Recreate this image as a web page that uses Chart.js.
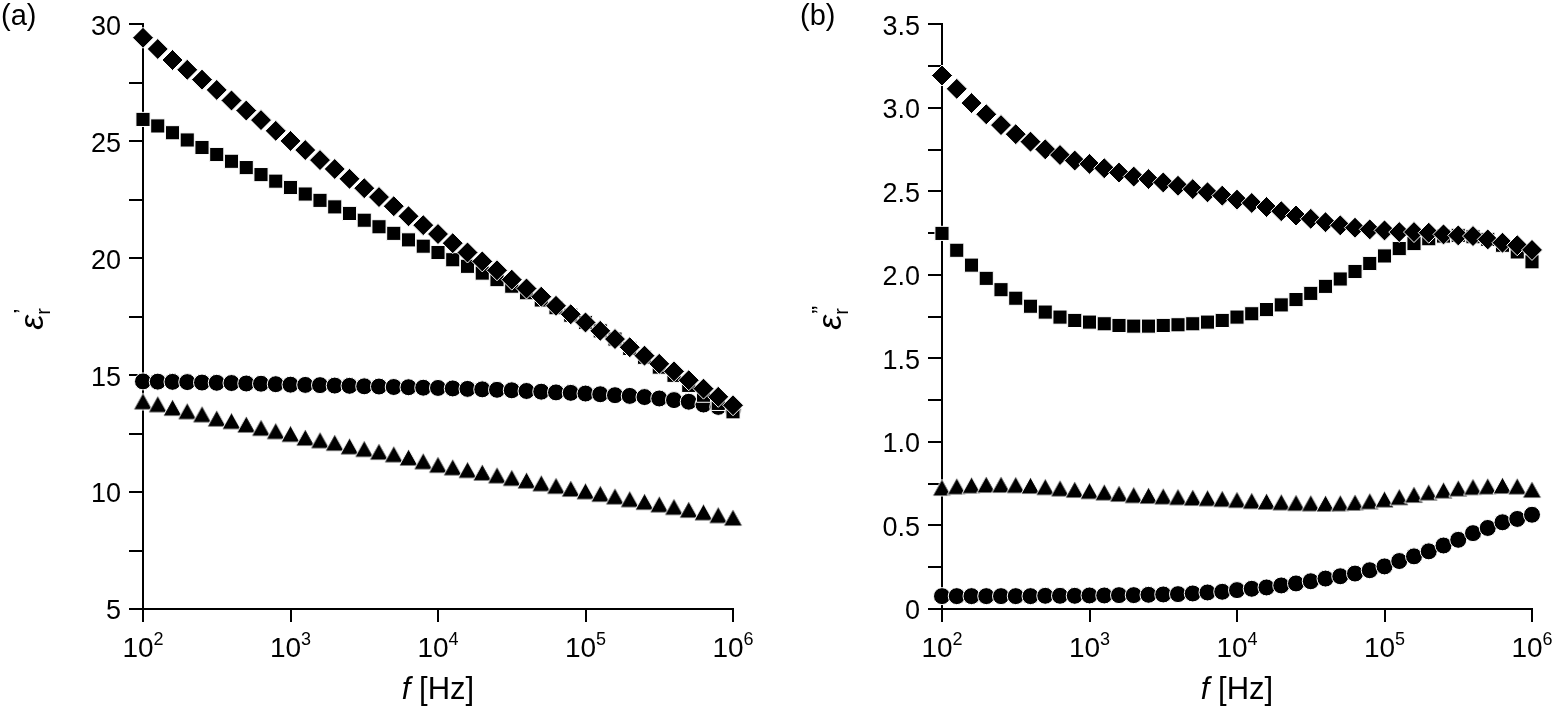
<!DOCTYPE html>
<html>
<head>
<meta charset="utf-8">
<script src="https://cdn.jsdelivr.net/npm/chart.js@4.4.1/dist/chart.umd.min.js"></script>
<style>
  html, body { margin: 0; padding: 0; background: #fff; }
  #wrap { position: relative; width: 1556px; height: 711px; }
  canvas { position: absolute; top: 0; }
  #chartA { left: 0; }
  #chartB { left: 778px; }
</style>
</head>
<body>
<div id="wrap">
  <canvas id="chartA" width="778" height="711"></canvas>
  <canvas id="chartB" width="778" height="711"></canvas>
</div>
<script>
// frequencies [Hz], 10 points per decade
let freq = [
  100, 125.9, 158.5, 199.5, 251.2, 316.2, 398.1, 501.2, 631.0, 794.3,
  1000, 1259, 1585, 1995, 2512, 3162, 3981, 5012, 6310, 7943,
  10000, 12589, 15849, 19953, 25119, 31623, 39811, 50119, 63096, 79433,
  100000, 125893, 158489, 199526, 251189, 316228, 398107, 501187, 630957, 794328,
  1000000
];

// decade ticks on the x axis
let xTickVals = [100, 1000, 10000, 100000, 1000000];
let xTickExp = ['2', '3', '4', '5', '6'];

// (a) real part
let realDiamond = [
  29.42, 28.94, 28.47, 28.05, 27.63, 27.19, 26.74, 26.31, 25.90, 25.44,
  25.01, 24.62, 24.19, 23.81, 23.39, 22.99, 22.61, 22.22, 21.79, 21.41,
  21.03, 20.64, 20.24, 19.86, 19.48, 19.08, 18.70, 18.35, 17.96, 17.60,
  17.25, 16.89, 16.54, 16.19, 15.83, 15.48, 15.16, 14.78, 14.42, 14.07,
  13.71
];
let realSquare = [
  25.93, 25.65, 25.36, 25.05, 24.73, 24.43, 24.14, 23.87, 23.57, 23.29,
  23.02, 22.74, 22.47, 22.19, 21.91, 21.62, 21.34, 21.06, 20.78, 20.51,
  20.24, 19.93, 19.65, 19.36, 19.08, 18.80, 18.52, 18.21, 17.88, 17.56,
  17.25, 16.89, 16.54, 16.14, 15.76, 15.34, 14.99, 14.56, 14.14, 13.79,
  13.43
];
let realCircle = [
  14.73, 14.72, 14.71, 14.70, 14.68, 14.67, 14.66, 14.64, 14.63, 14.61,
  14.59, 14.58, 14.57, 14.55, 14.54, 14.52, 14.51, 14.49, 14.48, 14.46,
  14.45, 14.43, 14.41, 14.39, 14.37, 14.35, 14.32, 14.29, 14.26, 14.24,
  14.21, 14.18, 14.14, 14.11, 14.06, 14.00, 13.93, 13.86, 13.74, 13.64,
  13.54
];
let realTriangle = [
  13.88, 13.76, 13.61, 13.46, 13.33, 13.15, 13.04, 12.89, 12.75, 12.61,
  12.49, 12.33, 12.22, 12.11, 11.96, 11.85, 11.73, 11.62, 11.48, 11.32,
  11.17, 11.06, 10.95, 10.84, 10.72, 10.61, 10.50, 10.38, 10.27, 10.15,
  10.04, 9.93, 9.82, 9.70, 9.59, 9.48, 9.37, 9.25, 9.14, 9.02,
  8.91
];

// (b) imaginary part
let imagDiamond = [
  3.193, 3.113, 3.028, 2.961, 2.896, 2.842, 2.797, 2.751, 2.717, 2.684,
  2.664, 2.638, 2.612, 2.588, 2.573, 2.553, 2.533, 2.513, 2.494, 2.474,
  2.450, 2.430, 2.406, 2.381, 2.355, 2.335, 2.315, 2.296, 2.282, 2.272,
  2.266, 2.256, 2.256, 2.252, 2.242, 2.236, 2.232, 2.212, 2.192, 2.177,
  2.149
];
let imagSquare = [
  2.248, 2.147, 2.058, 1.979, 1.911, 1.860, 1.812, 1.777, 1.747, 1.727,
  1.717, 1.707, 1.697, 1.693, 1.693, 1.697, 1.701, 1.707, 1.717, 1.727,
  1.747, 1.767, 1.792, 1.820, 1.852, 1.889, 1.931, 1.975, 2.020, 2.068,
  2.113, 2.157, 2.187, 2.216, 2.232, 2.236, 2.228, 2.212, 2.177, 2.137,
  2.078
];
let imagCircle = [
  0.077, 0.077, 0.077, 0.077, 0.077, 0.077, 0.077, 0.079, 0.079, 0.079,
  0.081, 0.081, 0.083, 0.083, 0.085, 0.087, 0.089, 0.093, 0.099, 0.103,
  0.113, 0.121, 0.129, 0.141, 0.153, 0.166, 0.182, 0.196, 0.212, 0.232,
  0.255, 0.287, 0.315, 0.345, 0.380, 0.414, 0.454, 0.485, 0.519, 0.539,
  0.564
];
let imagTriangle = [
  0.727, 0.735, 0.741, 0.745, 0.745, 0.743, 0.739, 0.731, 0.723, 0.715,
  0.707, 0.699, 0.691, 0.683, 0.679, 0.675, 0.671, 0.667, 0.664, 0.660,
  0.654, 0.648, 0.644, 0.640, 0.636, 0.634, 0.632, 0.634, 0.638, 0.646,
  0.657, 0.671, 0.685, 0.699, 0.711, 0.723, 0.731, 0.735, 0.739, 0.735,
  0.715
];

const FONT = '"Liberation Sans", Arial, Helvetica, sans-serif';
Chart.defaults.font.family = FONT;
Chart.defaults.color = '#000';

// triangle marker centred on its bounding box (chart.js puts the centroid on the point)
function makeTriangle(w, h) {
  let c = document.createElement('canvas');
  c.width = w + 2;
  c.height = h + 2;
  let g = c.getContext('2d');
  g.beginPath();
  g.moveTo(c.width / 2, 1);
  g.lineTo(w + 1, h + 1);
  g.lineTo(1, h + 1);
  g.closePath();
  g.fillStyle = '#000';
  g.fill();
  g.strokeStyle = '#fff';
  g.lineWidth = 1;
  g.stroke();
  return c;
}
let triangleImg = makeTriangle(19, 17);

function toPoints(values) {
  return freq.map((f, i) => ({ x: f, y: values[i] }));
}

function series(values, style, radius) {
  return {
    data: toPoints(values),
    showLine: false,
    pointStyle: style,
    pointRadius: radius,
    backgroundColor: '#000',
    borderColor: '#fff',
    borderWidth: 1,
    clip: false
  };
}

// panel letter, axis titles and 10^n tick labels
const panelText = {
  id: 'panelText',
  afterDraw(chart, args, opts) {
    let ctx = chart.ctx;
    let xs = chart.scales.x;
    let area = chart.chartArea;
    ctx.save();
    ctx.fillStyle = '#000';
    ctx.textAlign = 'left';
    ctx.textBaseline = 'alphabetic';

    // x tick labels
    xTickVals.forEach((v, k) => {
      let px = xs.getPixelForValue(v);
      ctx.font = '28px ' + FONT;
      let w1 = ctx.measureText('10').width;
      ctx.font = '18px ' + FONT;
      let w2 = ctx.measureText(xTickExp[k]).width;
      let x0 = px - (w1 + w2) / 2;
      ctx.font = '28px ' + FONT;
      ctx.fillText('10', x0, 657);
      ctx.font = '18px ' + FONT;
      ctx.fillText(xTickExp[k], x0 + w1, 645);
    });

    // x title: f [Hz]
    ctx.font = 'italic 31px ' + FONT;
    let wf = ctx.measureText('f').width;
    ctx.font = '31px ' + FONT;
    let wr = ctx.measureText(' [Hz]').width;
    let cx = (area.left + area.right) / 2 - (wf + wr) / 2;
    ctx.font = 'italic 31px ' + FONT;
    ctx.fillText('f', cx, 699);
    ctx.font = '31px ' + FONT;
    ctx.fillText(' [Hz]', cx + wf, 699);

    // panel letter
    ctx.font = '29px ' + FONT;
    ctx.fillText(opts.letter, opts.letterX, 25);

    // y title, rotated
    ctx.translate(opts.yTitleX, 318);
    ctx.rotate(-Math.PI / 2);
    ctx.font = 'italic 34px ' + FONT;
    let we = ctx.measureText('\u03B5').width;
    ctx.font = '20px ' + FONT;
    let wsub = ctx.measureText('r').width;
    let x1 = -(we + wsub + 2) / 2;
    ctx.font = 'italic 34px ' + FONT;
    ctx.fillText('\u03B5', x1, 0);
    ctx.font = '20px ' + FONT;
    ctx.fillText('r', x1 + we, 7);
    ctx.font = '24px ' + FONT;
    ctx.fillText(opts.prime, x1 + we + 1, -12);
    ctx.restore();
  }
};

function axisX() {
  return {
    type: 'logarithmic',
    min: 100,
    max: 1000000,
    afterBuildTicks: s => { s.ticks = xTickVals.map(v => ({ value: v })); },
    afterFit: s => { s.height = 102; },
    ticks: { display: false },
    grid: { drawOnChartArea: false, drawTicks: true, tickLength: 13, color: '#000', lineWidth: 2 },
    border: { display: true, color: '#000', width: 2 }
  };
}

function axisY(min, max, step, width, labelFn) {
  return {
    type: 'linear',
    min: min,
    max: max,
    afterFit: s => { s.width = width; },
    ticks: {
      stepSize: step,
      autoSkip: false,
      color: '#000',
      font: { size: 27 },
      padding: 8,
      labelOffset: 3,
      callback: labelFn
    },
    grid: { drawOnChartArea: false, drawTicks: true, tickLength: 14, color: '#000', lineWidth: 2 },
    border: { display: true, color: '#000', width: 2 }
  };
}

// (a)
new Chart(document.getElementById('chartA'), {
  type: 'scatter',
  data: {
    datasets: [
      series(realDiamond, 'rectRot', 10.5),
      series(realSquare, 'rect', 10),
      series(realCircle, 'circle', 8.5),
      series(realTriangle, triangleImg, 9)
    ]
  },
  options: {
    responsive: false,
    animation: false,
    events: [],
    layout: { padding: { left: 0, right: 45, top: 19, bottom: 0 } },
    plugins: {
      legend: { display: false },
      tooltip: { enabled: false },
      panelText: { letter: '(a)', letterX: 1, yTitleX: 43, prime: '\u2019' }
    },
    scales: {
      x: axisX(),
      y: axisY(5, 30, 2.5, 143, v => (v % 5 === 0 ? String(v) : ''))
    }
  },
  plugins: [panelText]
});

// (b)
new Chart(document.getElementById('chartB'), {
  type: 'scatter',
  data: {
    datasets: [
      series(imagDiamond, 'rectRot', 10.5),
      series(imagSquare, 'rect', 10),
      series(imagCircle, 'circle', 8.5),
      series(imagTriangle, triangleImg, 9)
    ]
  },
  options: {
    responsive: false,
    animation: false,
    events: [],
    layout: { padding: { left: 0, right: 24, top: 20, bottom: 0 } },
    plugins: {
      legend: { display: false },
      tooltip: { enabled: false },
      panelText: { letter: '(b)', letterX: 22, yTitleX: 63, prime: '\u201D' }
    },
    scales: {
      x: axisX(),
      y: axisY(0, 3.5, 0.25, 164, v => {
        if (Math.abs(v * 2 - Math.round(v * 2)) > 1e-6) return '';
        return v === 0 ? '0' : v.toFixed(1);
      })
    }
  },
  plugins: [panelText]
});
</script>
</body>
</html>
